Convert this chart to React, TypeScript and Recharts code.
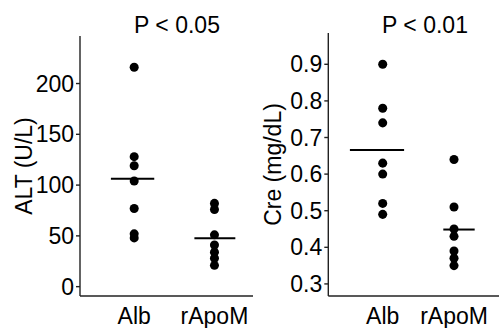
import {
  ReferenceLine,
  Scatter,
  ScatterChart,
  XAxis,
  YAxis,
  ZAxis,
} from "recharts";

const categories = ["Alb", "rApoM"];

// ALT (U/L)
const altAlb = [216, 128, 119, 104, 77, 52, 48];
const altRApoM = [82, 76, 51, 41, 34, 28, 21];
const altTicks = [0, 50, 100, 150, 200];

// Cre (mg/dL)
const creAlb = [0.9, 0.78, 0.74, 0.63, 0.6, 0.52, 0.49];
const creRApoM = [0.64, 0.51, 0.45, 0.43, 0.39, 0.37, 0.35];
const creTicks = [0.3, 0.4, 0.5, 0.6, 0.7, 0.8, 0.9];

const FONT = "'Liberation Sans', Arial, sans-serif";
const AXIS = "#222";

const mean = (v: number[]) => v.reduce((a, b) => a + b, 0) / v.length;
const toPoints = (x: number, v: number[]) => v.map((y) => ({ x, y }));

type PanelProps = {
  width: number;
  leftMargin: number;
  top: number;
  xDomain: [number, number];
  yDomain: [number, number];
  yTicks: number[];
  yLabel: string;
  labelOffset: number;
  groups: number[][];
  // mean bar extent per group, in x units
  barSpans: [number, number][];
  tickFormat: (v: number) => string;
};

function Panel({
  width,
  leftMargin,
  top,
  xDomain,
  yDomain,
  yTicks,
  yLabel,
  labelOffset,
  groups,
  barSpans,
  tickFormat,
}: PanelProps) {
  return (
    <ScatterChart
      width={width}
      height={328}
      margin={{ top, right: 0, bottom: 0, left: leftMargin }}
      style={{ fontFamily: FONT }}
    >
      <XAxis
        type="number"
        dataKey="x"
        domain={xDomain}
        allowDataOverflow
        ticks={[1, 2]}
        tickFormatter={(v: number) => categories[v - 1]}
        height={32}
        tickLine={false}
        tickSize={0}
        tickMargin={12}
        stroke={AXIS}
        strokeWidth={1.4}
        tick={{ fontSize: 23, fill: "#000" }}
      />
      <YAxis
        type="number"
        dataKey="y"
        domain={yDomain}
        allowDataOverflow
        ticks={yTicks}
        tickFormatter={tickFormat}
        width={60}
        tickSize={4}
        tickMargin={2}
        stroke={AXIS}
        strokeWidth={1.4}
        tick={{ fontSize: 23, fill: "#000" }}
        label={{
          value: yLabel,
          angle: -90,
          position: "insideLeft",
          offset: labelOffset,
          style: { textAnchor: "middle", fontSize: 23, fill: "#000" },
        }}
      />
      <ZAxis range={[46, 46]} />
      {groups.map((g, i) => (
        <Scatter
          key={categories[i]}
          data={toPoints(i + 1, g)}
          fill="#000"
          isAnimationActive={false}
        />
      ))}
      {groups.map((g, i) => (
        <ReferenceLine
          key={`m-${i}`}
          segment={[
            { x: barSpans[i][0], y: mean(g) },
            { x: barSpans[i][1], y: mean(g) },
          ]}
          stroke="#000"
          strokeWidth={2}
        />
      ))}
    </ScatterChart>
  );
}

const titleStyle = {
  position: "absolute" as const,
  top: 14,
  fontSize: 23,
  lineHeight: "23px",
  fontFamily: FONT,
  color: "#000",
  transform: "translateX(-50%)",
  whiteSpace: "nowrap" as const,
};

export default function App() {
  return (
    <div
      style={{
        position: "absolute",
        left: 0,
        top: 0,
        width: 499,
        height: 328,
        background: "#fff",
        overflow: "hidden",
      }}
    >
      <div style={{ position: "absolute", left: 0, top: 0 }}>
        <Panel
          width={253}
          leftMargin={20}
          top={36}
          xDomain={[0.325, 2.48]}
          yDomain={[-9.2, 246.8]}
          yTicks={altTicks}
          yLabel="ALT (U/L)"
          labelOffset={4}
          groups={[altAlb, altRApoM]}
          barSpans={[
            [0.71, 1.25],
            [1.75, 2.26],
          ]}
          tickFormat={(v) => String(v)}
        />
      </div>
      <div style={{ position: "absolute", left: 250, top: 0 }}>
        <Panel
          width={249}
          leftMargin={18.3}
          top={33}
          xDomain={[0.237, 2.631]}
          yDomain={[0.267, 0.9855]}
          yTicks={creTicks}
          yLabel="Cre (mg/dL)"
          labelOffset={4.7}
          groups={[creAlb, creRApoM]}
          barSpans={[
            [0.54, 1.3],
            [1.85, 2.29],
          ]}
          tickFormat={(v) => v.toFixed(1)}
        />
      </div>
      <div style={{ ...titleStyle, left: 177 }}>P &lt; 0.05</div>
      <div style={{ ...titleStyle, left: 425 }}>P &lt; 0.01</div>
    </div>
  );
}
